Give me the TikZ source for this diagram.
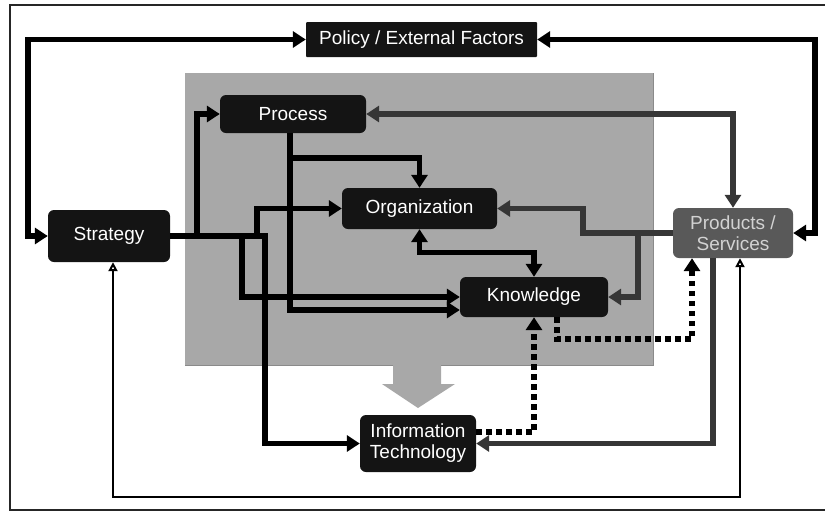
\documentclass[tikz,border=0pt]{standalone}
\usepackage{fontspec}
\setmainfont{Liberation Sans}
\usetikzlibrary{arrows.meta,calc}

\definecolor{boxblack}{HTML}{141414}
\definecolor{panelgray}{HTML}{A8A8A8}
\definecolor{paneledge}{HTML}{8A8A8A}
\definecolor{prodgray}{HTML}{595959}
\definecolor{prodtext}{HTML}{D2D2D2}
\definecolor{linkgray}{HTML}{363636}

\tikzset{
  block/.style={fill=boxblack, text=white, rounded corners=6pt, align=center,
    inner sep=0pt, font=\fontsize{19}{21}\selectfont},
  link/.style={draw=black, line width=5.5pt,
    arrows={-Triangle[length=13pt,width=16pt]}},
  twoway/.style={link, arrows={Triangle[length=13pt,width=16pt]-Triangle[length=13pt,width=16pt]}},
  greylink/.style={draw=linkgray},
  dotlink/.style={link, dash pattern=on 5.5pt off 4.5pt},
  thinlink/.style={draw=black, line width=2pt,
    arrows={Triangle[open,fill=white,length=9pt,width=9pt]-Triangle[open,fill=white,length=9pt,width=9pt]}}
}

\begin{document}
\begin{tikzpicture}[x=1pt,y=-1pt]
\useasboundingbox (0,0) rectangle (825,512);

% outer frame
\draw[line width=1.6pt, draw=black!85] (830,5) -- (10,5) -- (10,510) -- (830,510);

% shaded panel with the downward arrow
\fill[panelgray] (185,73) -- (653,73) -- (653,365) -- (441,365) -- (441,384)
  -- (455,384) -- (418,408) -- (382,384) -- (393,384) -- (393,365)
  -- (185,365) -- cycle;
\draw[paneledge, line width=1pt] (653,73) -- (653,365) -- (441,365);
\draw[paneledge, line width=1pt] (393,365) -- (185,365);

% blocks
\node[block, rounded corners=1pt, minimum width=231pt, minimum height=35pt] (policy) at (421.5,39.5) {Policy / External Factors};
\node[block, minimum width=146pt, minimum height=38pt] (process) at (293,114) {Process};
\node[block, minimum width=122pt, minimum height=52pt] (strategy) at (109,236) {Strategy};
\node[block, minimum width=155pt, minimum height=41pt] (org) at (419.5,208.5) {Organization};
\node[block, minimum width=148pt, minimum height=40pt] (knowledge) at (534,297) {Knowledge};
\node[block, fill=prodgray, text=prodtext, minimum width=120pt, minimum height=50pt] (products) at (733,233) {Products /\\Services};
\node[block, minimum width=116pt, minimum height=57pt] (it) at (418,443.5) {Information\\Technology};

% policy links
\draw[twoway] (policy.west) -- ++(-278,0) |- (strategy.west);
\draw[twoway] (policy.east) -- ++(278,0) |- (products.east);

% strategy links
\draw[link] (strategy.east) -- ++(27,0) |- (process.west);
\draw[link] (strategy.east) -- ++(87,0) |- (org.west);
\draw[link] (strategy.east) -- ++(72,0) |- (knowledge.west);
\draw[link] (strategy.east) -- ++(95,0) |- (it.west);

% process links
\draw[link] ($(process.south)+(-3,0)$) -- ++(0,25) -| (org.north);
\draw[link] ($(process.south)+(-3,0)$) |- ($(knowledge.west)+(0,13)$);
\draw[twoway, greylink] (process.east) -| (products.north);

% organization and knowledge
\draw[twoway] (org.south) -- ++(0,23.5) -| (knowledge.north);

% products links
\draw[link, greylink] (products.west) -- ++(-90,0) |- (org.east);
\draw[link, greylink] (products.west) -- ++(-35,0) |- (knowledge.east);
\draw[link, greylink] ($(products.south)+(-20,0)$) |- (it.east);

% dotted links
\draw[dotlink] ($(knowledge.south)+(23,0)$) -- ++(0,22) -| ($(products.south)+(-41,0)$);
\draw[dotlink] ($(it.east)+(0,-11.5)$) -| (knowledge.south);

% long return loop along the bottom
\draw[thinlink] ($(strategy.south)+(4,0)$) -- ++(0,235) -| ($(products.south)+(7,0)$);
\end{tikzpicture}
\end{document}
